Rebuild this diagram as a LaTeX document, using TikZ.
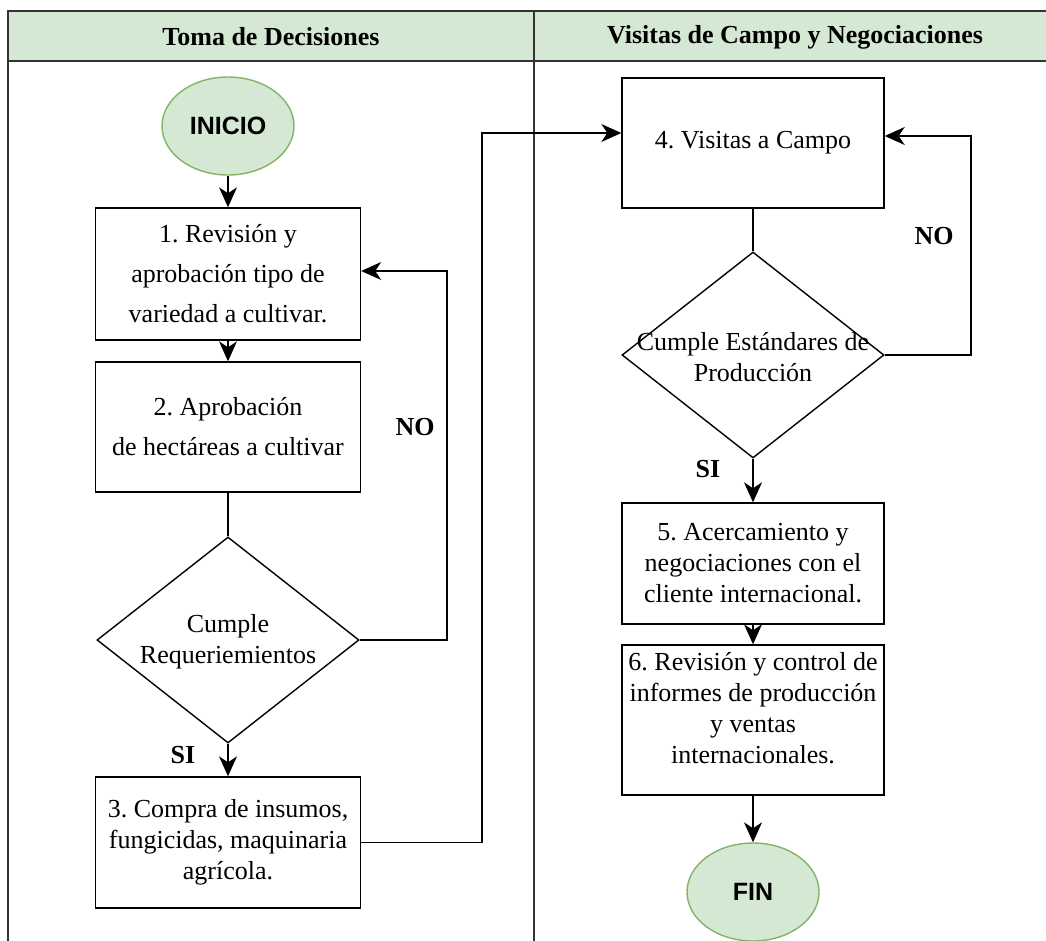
\documentclass[tikz,border=0pt]{standalone}
\usepackage{fontspec}
\setmainfont{Liberation Serif}
\newfontfamily\termfont{Liberation Sans}
\usetikzlibrary{shapes.geometric,arrows.meta}
\definecolor{lanefill}{HTML}{D5E8D4}
\definecolor{termline}{HTML}{82B366}
\definecolor{frameline}{HTML}{333333}
\frenchspacing

\begin{document}
\begin{tikzpicture}[x=1pt,y=-1pt,
  every node/.style={font=\fontsize{26}{31}\selectfont, text=black},
  frame/.style={draw=frameline, line width=1.8pt},
  flowline/.style={draw=black, line width=1.4pt},
  arr/.style={flowline, -{Stealth[length=20pt,width=18pt,inset=6pt]}},
  procbox/.style={draw=black, line width=1.4pt, rectangle, align=center, inner sep=2pt},
  widebox/.style={procbox, font=\fontsize{26}{40}\selectfont},
  decision/.style={draw=black, line width=1.4pt, diamond, inner sep=0pt,
    minimum width=262pt, minimum height=206pt},
  terminal/.style={ellipse, draw=termline, fill=lanefill, line width=1.4pt,
    minimum width=132pt, minimum height=98pt,
    font=\termfont\bfseries\fontsize{25}{30}\selectfont},
  lanehead/.style={font=\bfseries\fontsize{26}{31}\selectfont},
  lbl/.style={font=\bfseries\fontsize{26}{31}\selectfont},
  plain/.style={align=center}
]
\useasboundingbox (0,0) rectangle (1046,941);

% swimlane frame and headers
\fill[lanefill] (8,11) rectangle (1046,61);
\draw[frame] (1046,11) -- (8,11) -- (8,945);
\draw[frame] (8,61) -- (1046,61);
\draw[frame] (534,11) -- (534,945);
\node[lanehead] (h1) at (271,37) {Toma de Decisiones};
\node[lanehead] (h2) at (795,37) {Visitas de Campo y Negociaciones};

% left lane
\node[terminal] (inicio) at (228,126) {INICIO};
\node[widebox, minimum width=265pt, minimum height=132pt] (b1) at (228,274)
  {1. Revisión y\\aprobación tipo de\\variedad a cultivar.};
\node[widebox, minimum width=265pt, minimum height=130pt] (b2) at (228,427)
  {2. Aprobación\\de hectáreas a cultivar};
\node[decision] (d1) at (228,640) {};
\node[plain] (d1t) at (228,642) {Cumple\\Requeriemientos};
\node[procbox, minimum width=265pt, minimum height=131pt] (b3) at (228,842.5)
  {3. Compra de insumos,\\fungicidas, maquinaria\\agrícola.};

% right lane
\node[procbox, minimum width=262pt, minimum height=130pt] (b4) at (753,143)
  {4. Visitas a Campo};
\node[decision] (d2) at (753,355) {};
\node[plain] (d2t) at (753,357) {Cumple Estándares de\\Producción};
\node[procbox, minimum width=262pt, minimum height=121pt] (b5) at (753,563.5)
  {5. Acercamiento y\\negociaciones con el\\cliente internacional.};
\node[procbox, minimum width=262pt, minimum height=150pt] (b6) at (753,720) {};
\node[plain] (b6t) at (753,708)
  {6. Revisión y control de\\informes de producción\\y ventas\\internacionales.};
\node[terminal] (fin) at (753,892) {FIN};

% branch labels
\node[lbl] (no1) at (415,427) {NO};
\node[lbl] (si1) at (183,755) {SI};
\node[lbl] (no2) at (934,236) {NO};
\node[lbl] (si2) at (708,469) {SI};

% connectors
\coordinate (loopL) at (447,271);
\coordinate (jump) at (482,133);
\coordinate (loopR) at (971,136);

\draw[arr] (inicio.south) -- (b1.north);
\draw[arr] (b1.south) -- (b2.north);
\draw[flowline] (b2.south) -- (d1.north);
\draw[arr] (d1.south) -- (b3.north);
\draw[arr] (d1.east) -| (loopL) -- (b1.east |- loopL);
\draw[arr] (b3.east) -| (jump) -- (b4.west |- jump);

\draw[flowline] (b4.south) -- (d2.north);
\draw[arr] (d2.east) -| (loopR) -- (b4.east |- loopR);
\draw[arr] (d2.south) -- (b5.north);
\draw[arr] (b5.south) -- (b6.north);
\draw[arr] (b6.south) -- (fin.north);
\end{tikzpicture}
\end{document}
